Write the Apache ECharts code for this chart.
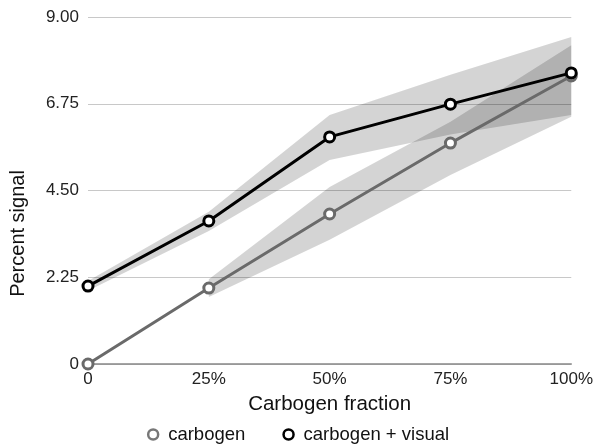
<!DOCTYPE html>
<html>
<head>
<meta charset="utf-8">
<script src="https://cdn.jsdelivr.net/npm/echarts@6/dist/echarts.min.js"></script>
<style>html,body{margin:0;padding:0;background:#fff}#c{width:596px;height:446px}</style>
</head>
<body>
<div id="c"></div>
<script>
var categories = ['0', '25%', '50%', '75%', '100%'];
var yTicks = [0, 2.25, 4.5, 6.75, 9];
var carbogen = [0, 1.97, 3.89, 5.73, 7.47];
var carbogenLow = ['-', 1.74, 3.22, 4.9, 6.41];
var carbogenHigh = ['-', 2.2, 4.59, 6.28, 8.27];
var visual = [2.02, 3.71, 5.89, 6.74, 7.55];
var visualLow = [1.9, 3.45, 5.29, 5.95, 6.46];
var visualHigh = [2.15, 3.95, 6.46, 7.5, 8.48];

function diff(hi, lo) {
  return hi.map(function (v, i) { return (v === '-' || lo[i] === '-') ? '-' : +(v - lo[i]).toFixed(3); });
}
var font = '"Liberation Sans", Arial, Helvetica, sans-serif';
var bandColor = 'rgba(0,0,0,0.17)';
function bandBase(name, data, stack) {
  return { name: name, type: 'line', data: data, stack: stack, symbol: 'none', silent: true,
    lineStyle: { opacity: 0 }, itemStyle: { opacity: 0 }, z: 1 };
}
function bandTop(name, data, stack) {
  return { name: name, type: 'line', data: data, stack: stack, symbol: 'none', silent: true,
    lineStyle: { opacity: 0 }, areaStyle: { color: bandColor, opacity: 1 }, z: 1 };
}
var chart = echarts.init(document.getElementById('c'));
chart.setOption({
  animation: false,
  textStyle: { fontFamily: font },
  grid: { left: 86, right: 23, top: 17, bottom: 82, containLabel: false },
  xAxis: {
    type: 'category', data: categories, boundaryGap: false,
    name: 'Carbogen fraction', nameLocation: 'middle', nameGap: 30,
    nameTextStyle: { fontSize: 20.5, color: '#111', fontFamily: font },
    axisLine: { lineStyle: { color: '#888', width: 1.5 } },
    axisTick: { show: false },
    axisLabel: { fontSize: 17, color: '#222', margin: 7, fontFamily: font },
    splitLine: { show: false }
  },
  yAxis: {
    type: 'value', min: 0, max: 9, interval: 2.25,
    name: 'Percent signal', nameLocation: 'middle', nameGap: 60,
    nameTextStyle: { fontSize: 20, color: '#111', fontFamily: font, padding: [0, 86, 0, 0] },
    axisLine: { show: false }, axisTick: { show: false },
    axisLabel: { fontSize: 17, color: '#222', margin: 9, fontFamily: font,
      formatter: function (v) { return v === 0 ? '0' : v.toFixed(2); } },
    splitLine: { lineStyle: { color: '#c8c8c8', width: 1.2 } }
  },
  legend: {
    top: 420, left: 'center', itemGap: 37, itemWidth: 10, itemHeight: 10,
    textStyle: { fontSize: 18.5, color: '#111', fontFamily: font, padding: [0, 0, 0, 5] },
    data: [
      { name: 'carbogen', icon: 'circle', itemStyle: { color: '#fff', borderColor: '#777', borderWidth: 2.5 } },
      { name: 'carbogen + visual', icon: 'circle', itemStyle: { color: '#fff', borderColor: '#000', borderWidth: 2.5 } }
    ]
  },
  series: [
    bandBase('cLow', carbogenLow, 'cb'),
    bandTop('cBand', diff(carbogenHigh, carbogenLow), 'cb'),
    bandBase('vLow', visualLow, 'vb'),
    bandTop('vBand', diff(visualHigh, visualLow), 'vb'),
    { name: 'carbogen', type: 'line', data: carbogen, z: 3,
      symbol: 'circle', symbolSize: 10,
      lineStyle: { color: '#6a6a6a', width: 3 },
      itemStyle: { color: '#fff', borderColor: '#6a6a6a', borderWidth: 3 } },
    { name: 'carbogen + visual', type: 'line', data: visual, z: 4,
      symbol: 'circle', symbolSize: 10,
      lineStyle: { color: '#000', width: 3 },
      itemStyle: { color: '#fff', borderColor: '#000', borderWidth: 3 } }
  ]
});
</script>
</body>
</html>
